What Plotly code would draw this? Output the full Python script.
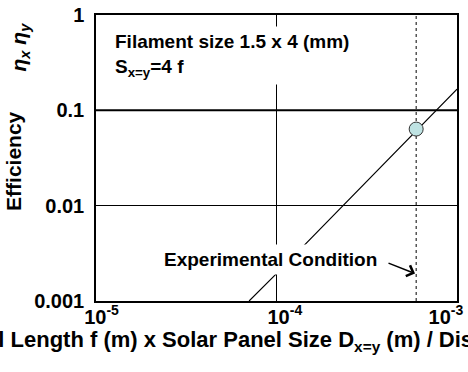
import plotly.graph_objects as go

# Data
curve_x = [7.05e-5, 1.0e-4, 1.0e-3]
curve_y = [0.001, 0.00194, 0.167]
exp_x = [5.94e-4]
exp_y = [0.0636]
x_ticks = [1e-5, 1e-4, 1e-3]
x_ticktext = ["\u00a0\u00a010<sup>-5</sup>", "\u00a0\u00a0\u00a010<sup>-4</sup>", "10<sup>-3</sup>\u00a0\u00a0\u00a0\u00a0"]
y_ticks = [0.001, 0.01, 0.1, 1]
y_ticktext = ["0.001", "0.01", "0.1", "1"]
major_grid_y = 0.1

FONT = "Liberation Sans, Arial, sans-serif"

fig = go.Figure()
fig.add_trace(go.Scatter(x=[x_ticks[0], x_ticks[-1]], y=[major_grid_y] * 2, mode="lines",
                         line=dict(color="black", width=2), showlegend=False, hoverinfo="skip"))
fig.add_trace(go.Scatter(x=curve_x, y=curve_y, mode="lines",
                         line=dict(color="black", width=1.2), showlegend=False, hoverinfo="skip"))
fig.add_trace(go.Scatter(x=exp_x * 2, y=[y_ticks[0], y_ticks[-1]], mode="lines",
                         line=dict(color="black", width=1, dash="3px,3px"), showlegend=False, hoverinfo="skip"))
fig.add_trace(go.Scatter(x=exp_x, y=exp_y, mode="markers",
                         marker=dict(size=14, color="#bfe3e3", line=dict(color="#333333", width=1)),
                         showlegend=False, hoverinfo="skip"))

fig.update_xaxes(type="log", range=[-5, -3], tickvals=x_ticks, ticktext=x_ticktext,
                 showline=True, mirror=True, linecolor="black", linewidth=1.5,
                 showgrid=True, gridcolor="black", gridwidth=1, zeroline=False, ticks="",
                 tickfont=dict(family=FONT, size=20, color="black", weight="bold"),
                 ticklabelstandoff=-3, ticklabeloverflow="allow", automargin=False)
fig.update_yaxes(type="log", range=[-3, 0], tickvals=y_ticks, ticktext=y_ticktext,
                 showline=True, mirror=True, linecolor="black", linewidth=1.5,
                 showgrid=True, gridcolor="black", gridwidth=1, zeroline=False, ticks="",
                 tickfont=dict(family=FONT, size=20, color="black", weight="bold"),
                 ticklabelstandoff=6, automargin=False)

ann_font = dict(family=FONT, size=19, color="black", weight="bold")
fig.add_annotation(xref="paper", yref="paper", x=0.04, y=0.86, xanchor="left", yanchor="middle",
                   text="Filament size 1.5 x 4 (mm)<br>S<sub>x=y</sub>=4 f", align="left",
                   showarrow=False, bgcolor="white", borderpad=4, font=ann_font)
fig.add_annotation(xref="paper", yref="paper", x=0.482, y=0.145, xanchor="center", yanchor="middle",
                   text="Experimental Condition", showarrow=False, bgcolor="white", borderpad=4,
                   font=ann_font)
fig.add_annotation(xref="paper", yref="paper", x=0.8837, y=0.096, ax=-28, ay=-11, text="",
                   showarrow=True, arrowhead=4, arrowsize=1.5, arrowwidth=1.5, arrowcolor="black")
fig.add_annotation(xref="paper", yref="paper", x=-0.227, y=0.49, xanchor="center", yanchor="middle",
                   text="Efficiency", textangle=-90, showarrow=False,
                   font=dict(family=FONT, size=21, color="black", weight="bold"))
fig.add_annotation(xref="paper", yref="paper", x=-0.21, y=0.887, xanchor="center", yanchor="middle",
                   text="<i>η<sub>x</sub> η<sub>y</sub></i>", textangle=-90, showarrow=False,
                   font=dict(family=FONT, size=21, color="black", weight="bold"))
fig.add_annotation(xref="paper", yref="paper", x=-0.417, y=-0.134, xanchor="left", yanchor="middle",
                   text="Focal Length f (m) x Solar Panel Size D<sub>x=y</sub> (m) / Distance<sup>2</sup> (m<sup>2</sup>)",
                   showarrow=False, font=dict(family=FONT, size=22, color="black", weight="bold"))

fig.update_layout(width=468, height=372, margin=dict(l=96, r=11, t=15, b=71, autoexpand=False),
                  paper_bgcolor="white", plot_bgcolor="white",
                  font=dict(family=FONT, color="black"))
fig.write_html("out.html")
